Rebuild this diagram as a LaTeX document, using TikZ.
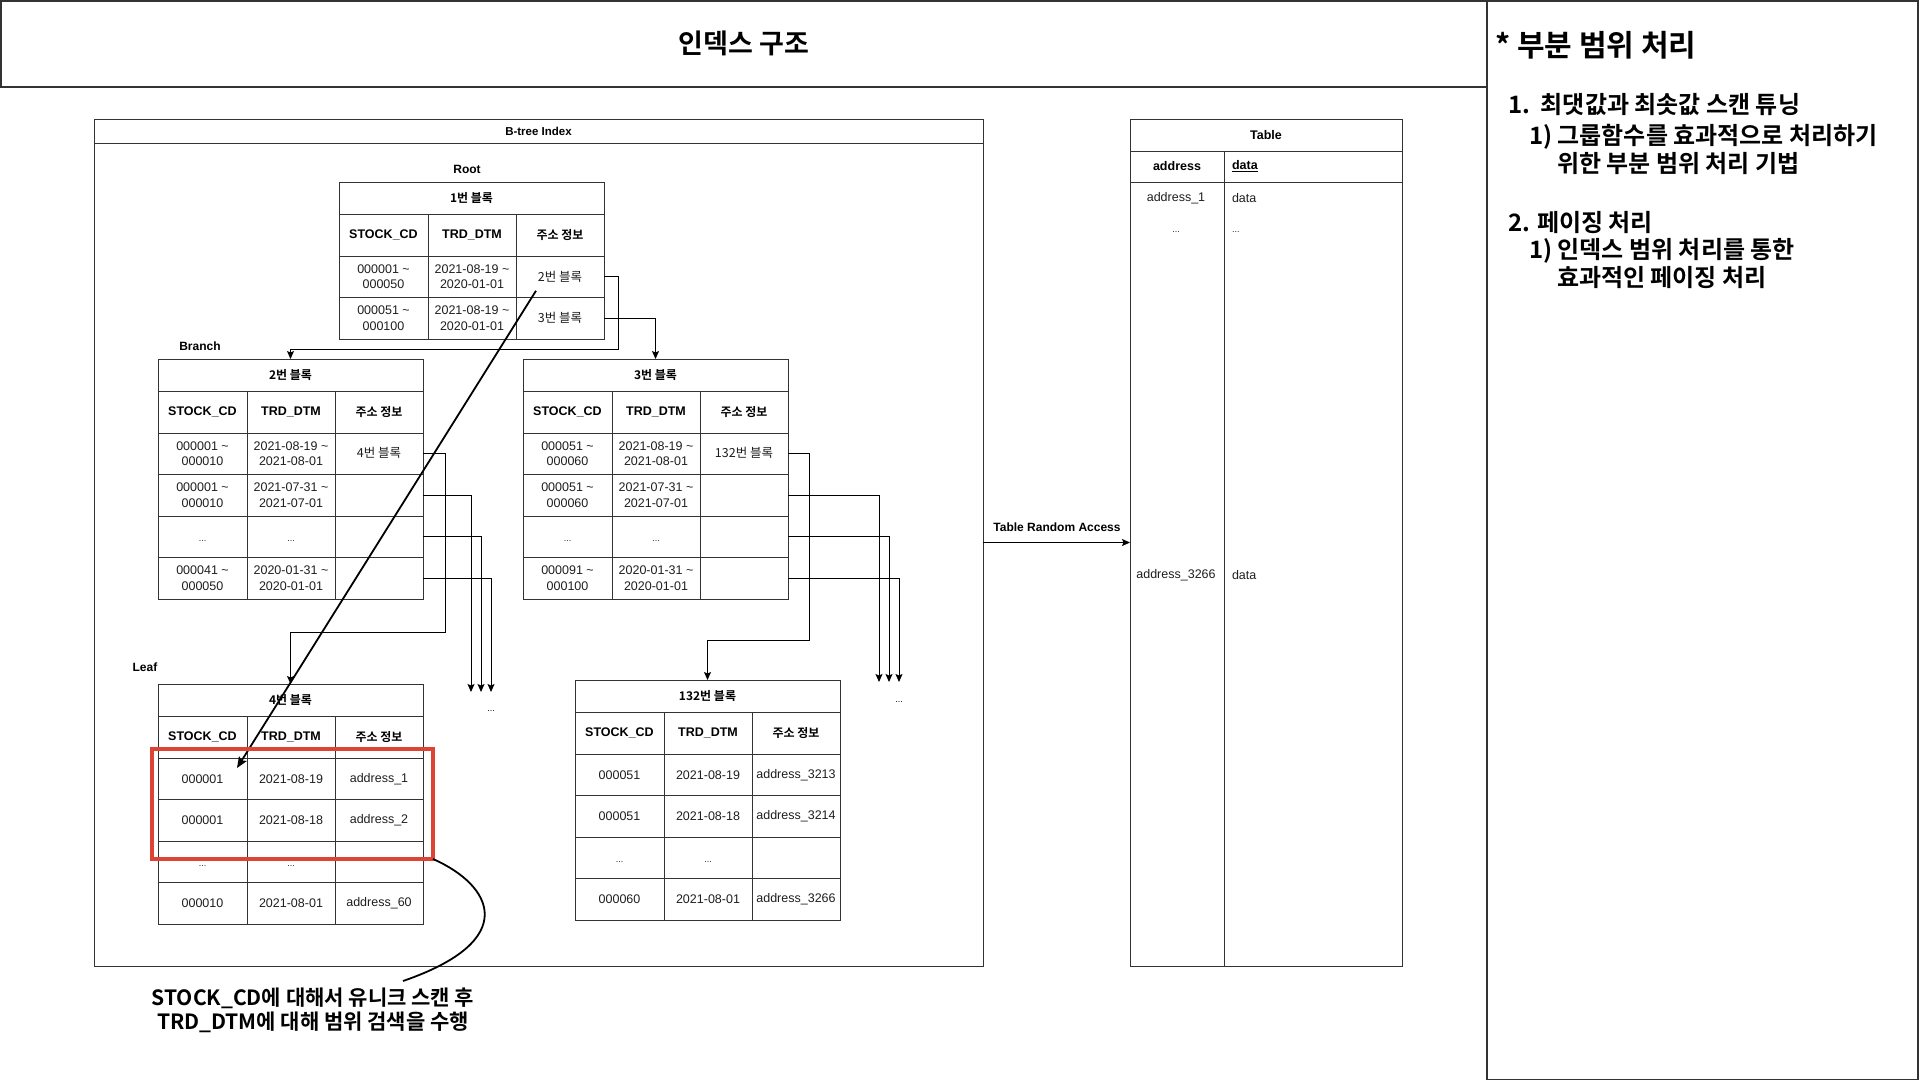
\documentclass[tikz,border=0pt]{standalone}
\usepackage{fontspec}
\setmainfont{Liberation Sans}
\newfontfamily\kr{Noto Sans CJK KR}[BoldFont={Noto Sans CJK KR Bold}]
\usetikzlibrary{arrows.meta,calc}

\definecolor{frame}{HTML}{333333}
\definecolor{txt}{HTML}{1E1E1E}
\definecolor{selred}{RGB}{222,68,52}

\newcommand\tld{\textasciitilde}
\newcommand\ddd{\raisebox{-4pt}[1pt][0pt]{\fontsize{9}{10}\selectfont ...}}

\tikzset{
  every node/.style={outer sep=0pt, inner sep=0pt},
  cellbase/.style={draw=frame, line width=1pt, anchor=north west, align=center},
  tcell/.style={cellbase, minimum width=265, minimum height=32,
    font=\kr\bfseries\fontsize{12}{14}\selectfont},
  hcell/.style={cellbase, minimum height=42, font=\bfseries\fontsize{12.5}{15}\selectfont},
  dcell/.style={cellbase, minimum height=41.5, text=txt, font=\fontsize{12.5}{15.5}\selectfont},
  lvl/.style={font=\bfseries\fontsize{12}{14}\selectfont},
  conn/.style={draw=black, line width=1pt, -{Stealth[length=8pt,width=7pt,inset=1.5pt]}},
  bigarrow/.style={draw=black, line width=1.8pt, -{Stealth[length=11pt,width=9pt,inset=2pt]}},
  curvy/.style={draw=black, line width=1.8pt},
  selbox/.style={draw=selred, line width=3.5pt, anchor=north west},
  panel/.style={draw=frame, line width=1.5pt, anchor=north west},
  kbig/.style={font=\kr\bfseries\fontsize{24}{28}\selectfont, anchor=west},
}

% block table: name, x, y, title
\newcommand\blocktab[4]{%
  \node[tcell] (#1-t) at (#2,#3) {#4};
  \node[hcell, minimum width=89] (#1-ha) at (#1-t.south west) {STOCK\_CD};
  \node[hcell, minimum width=88] (#1-hb) at (#1-ha.north east) {TRD\_DTM};
  \node[hcell, minimum width=88, font=\kr\bfseries\fontsize{12}{14}\selectfont] (#1-hc) at (#1-hb.north east) {주소 정보};
}
% table row: table, row, previous row, three cells
\newcommand\trow[6]{%
  \node[dcell, minimum width=89] (#1-#2a) at (#1-#3a.south west) {#4};
  \node[dcell, minimum width=88] (#1-#2b) at (#1-#2a.north east) {#5};
  \node[dcell, minimum width=88] (#1-#2c) at (#1-#2b.north east) {#6};
}

\begin{document}
\begin{tikzpicture}[x=1pt, y=-1pt]
\useasboundingbox (0,0) rectangle (1920,1080);

% page frames
\node[panel, minimum width=1486, minimum height=86, font=\kr\bfseries\fontsize{27}{30}\selectfont]
  (titlebox) at (0.75,0.75) {인덱스 구조};
\node[panel, minimum width=431, minimum height=1078.5] (side) at (1487,0.75) {};

% side notes
\node[anchor=west, font=\kr\bfseries\fontsize{30}{34}\selectfont] (sidehead) at (1495,45) {* 부분 범위 처리};
\node[kbig] (s1) at (1508,105) {1.\ \ 최댓값과 최솟값 스캔 튜닝};
\node[kbig] (s1a) at (1529,137) {1) 그룹함수를 효과적으로 처리하기};
\node[kbig] (s1b) at (1557,164) {위한 부분 범위 처리 기법};
\node[kbig] (s2) at (1508,223) {2. 페이징 처리};
\node[kbig] (s2a) at (1529,251) {1) 인덱스 범위 처리를 통한};
\node[kbig] (s2b) at (1557,278) {효과적인 페이징 처리};

% B-tree index frame
\node[cellbase, minimum width=889, minimum height=847] (btree) at (94,119) {};
\node[cellbase, minimum width=889, minimum height=24, font=\bfseries\fontsize{11.5}{13}\selectfont]
  (btree-h) at (94,119) {B-tree Index};

\node[lvl] (lroot) at (467,169) {Root};
\node[lvl] (lbranch) at (200,346) {Branch};
\node[lvl] (lleaf) at (145,667) {Leaf};

% root block
\blocktab{root}{339}{182}{1번 블록}
\trow{root}{1}{h}{000001 \tld\\000050}{2021-08-19 \tld\\2020-01-01}{\kr 2번 블록}
\trow{root}{2}{1}{000051 \tld\\000100}{2021-08-19 \tld\\2020-01-01}{\kr 3번 블록}

% branch blocks
\blocktab{b2}{158}{359}{2번 블록}
\trow{b2}{1}{h}{000001 \tld\\000010}{2021-08-19 \tld\\2021-08-01}{\raisebox{3pt}{\kr 4번 블록}}
\trow{b2}{2}{1}{000001 \tld\\000010}{2021-07-31 \tld\\2021-07-01}{}
\trow{b2}{3}{2}{\ddd}{\ddd}{}
\trow{b2}{4}{3}{000041 \tld\\000050}{2020-01-31 \tld\\2020-01-01}{}

\blocktab{b3}{523}{359}{3번 블록}
\trow{b3}{1}{h}{000051 \tld\\000060}{2021-08-19 \tld\\2021-08-01}{\raisebox{3pt}{\kr 132번 블록}}
\trow{b3}{2}{1}{000051 \tld\\000060}{2021-07-31 \tld\\2021-07-01}{}
\trow{b3}{3}{2}{\ddd}{\ddd}{}
\trow{b3}{4}{3}{000091 \tld\\000100}{2020-01-31 \tld\\2020-01-01}{}

% leaf blocks
\blocktab{lf}{158}{684}{4번 블록}
\trow{lf}{1}{h}{000001}{2021-08-19}{address\_1}
\trow{lf}{2}{1}{000001}{2021-08-18}{address\_2}
\trow{lf}{3}{2}{\ddd}{\ddd}{}
\trow{lf}{4}{3}{000010}{2021-08-01}{address\_60}

\blocktab{lf2}{575}{680}{132번 블록}
\trow{lf2}{1}{h}{000051}{2021-08-19}{address\_3213}
\trow{lf2}{2}{1}{000051}{2021-08-18}{address\_3214}
\trow{lf2}{3}{2}{\ddd}{\ddd}{}
\trow{lf2}{4}{3}{000060}{2021-08-01}{address\_3266}

% root -> branch
\draw[conn] (root-1c.east) -- ++(14,0) |- ($(b2-t.north)+(0,-10)$) -- (b2-t.north);
\draw[conn] (root-2c.east) -| (b3-t.north);

% branch 2 -> leaves
\coordinate (l2) at (471,692);
\coordinate (l3) at (481,692);
\coordinate (l4) at (491,692);
\draw[conn] (b2-1c.east) -- ++(22,0) |- ($(lf-t.north)+(0,-52)$) -- (lf-t.north);
\draw[conn] (b2-2c.east) -| (l2);
\draw[conn] (b2-3c.east) -| (l3);
\draw[conn] (b2-4c.east) -| (l4);
\node (more1) at (491,707) {\ddd};

% branch 3 -> leaves
\coordinate (r2) at (879,682);
\coordinate (r3) at (889,682);
\coordinate (r4) at (899,682);
\draw[conn] (b3-1c.east) -- ++(21,0) |- ($(lf2-t.north)+(0,-40)$) -- (lf2-t.north);
\draw[conn] (b3-2c.east) -| (r2);
\draw[conn] (b3-3c.east) -| (r3);
\draw[conn] (b3-4c.east) -| (r4);
\node (more2) at (899,698) {\ddd};

% search path through the index
\draw[bigarrow] ($(root-1c.center)+(-24,14)$) -- ($(lf-1a.north east)+(-10,10)$);

% selected range
\node[selbox, minimum width=281, minimum height=110] (sel) at (152,749) {};
\coordinate (notetip) at (403,981);
\draw[curvy] (sel.south east) .. controls (492,885) and (522,940) .. (notetip);
\node[align=center, font=\kr\bfseries\fontsize{21}{24}\selectfont] (note) at (313,1010)
  {STOCK\_CD에 대해서 유니크 스캔 후\\TRD\_DTM에 대해 범위 검색을 수행};

% data table
\node[cellbase, minimum width=272, minimum height=32, font=\bfseries\fontsize{12.5}{15}\selectfont]
  (tbl-t) at (1130,119) {Table};
\node[cellbase, minimum width=94, minimum height=31, font=\bfseries\fontsize{12.5}{15}\selectfont]
  (tbl-ha) at (tbl-t.south west) {address};
\node[cellbase, minimum height=31, text width=162, inner xsep=8pt, align=left,
  font=\bfseries\fontsize{12.5}{15}\selectfont] (tbl-hb) at (tbl-ha.north east) {\underline{data}};
\node[cellbase, minimum width=94, minimum height=784] (tbl-a) at (tbl-ha.south west) {};
\node[cellbase, minimum width=178, minimum height=784] (tbl-b) at (tbl-a.north east) {};

\node[font=\fontsize{12.5}{15}\selectfont, text=txt] (ta1) at (1176,198) {address\_1};
\node[anchor=west, font=\fontsize{12.5}{15}\selectfont, text=txt] (tb1) at (1232,198) {data};
\node[text=txt] (ta2) at (1176,228) {\ddd};
\node[anchor=west, text=txt] (tb2) at (1232,228) {\ddd};
\node[font=\fontsize{12.5}{15}\selectfont, text=txt] (ta3) at (1176,575) {address\_3266};
\node[anchor=west, font=\fontsize{12.5}{15}\selectfont, text=txt] (tb3) at (1232,575) {data};

% random access into the table
\draw[conn] (btree.east) -- (btree.east -| tbl-a.west);
\node[font=\bfseries\fontsize{12}{14}\selectfont] (tra) at (1057,527) {Table Random Access};

\end{tikzpicture}
\end{document}
